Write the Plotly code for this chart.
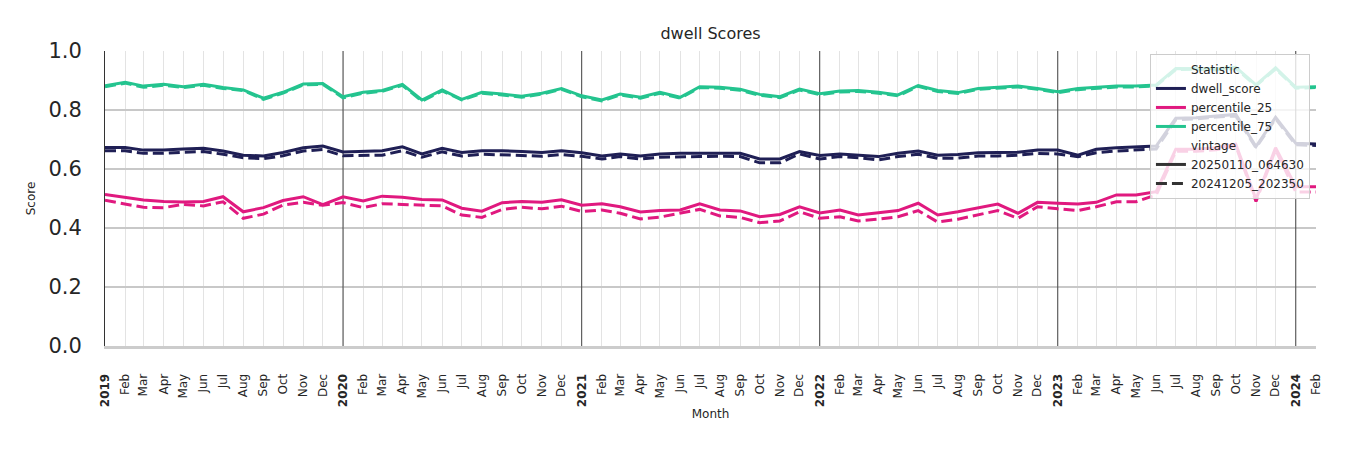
import pandas as pd
import plotly.graph_objects as go

# ---- data ----
months = pd.date_range("2019-01-01", "2024-02-01", freq="MS")
tick_text = [f"<b>{d.year}</b>" if d.month == 1 else d.strftime("%b") for d in months]
year_starts = [d for d in months if d.month == 1 and d.year > 2019]

vintages = ["20250110_064630", "20241205_202350"]
statistics = ["dwell_score", "percentile_25", "percentile_75"]

dwell_score_v1 = [0.673, 0.673, 0.664, 0.664, 0.668, 0.670, 0.661, 0.647, 0.644, 0.656, 0.672, 0.678,
                  0.658, 0.661, 0.662, 0.675, 0.651, 0.670, 0.656, 0.662, 0.662, 0.659, 0.656, 0.662,
                  0.655, 0.644, 0.651, 0.644, 0.651, 0.653, 0.653, 0.653, 0.653, 0.634, 0.634, 0.659,
                  0.646, 0.651, 0.647, 0.642, 0.653, 0.661, 0.647, 0.649, 0.655, 0.655, 0.657, 0.664,
                  0.664, 0.647, 0.667, 0.672, 0.676, 0.678, 0.772, 0.774, 0.780, 0.785, 0.676, 0.775,
                  0.687, 0.685]
dwell_score_v2 = [0.662, 0.662, 0.653, 0.653, 0.657, 0.659, 0.650, 0.638, 0.635, 0.645, 0.661, 0.666,
                  0.645, 0.646, 0.647, 0.662, 0.640, 0.658, 0.644, 0.650, 0.649, 0.646, 0.643, 0.649,
                  0.643, 0.634, 0.642, 0.634, 0.640, 0.642, 0.642, 0.643, 0.642, 0.621, 0.621, 0.651,
                  0.634, 0.642, 0.638, 0.631, 0.642, 0.650, 0.636, 0.637, 0.644, 0.644, 0.647, 0.653,
                  0.651, 0.642, 0.655, 0.661, 0.664, 0.668, 0.767, 0.770, 0.776, 0.780, 0.672, 0.770,
                  0.682, 0.680]
percentile_25_v1 = [0.514, 0.503, 0.495, 0.490, 0.488, 0.490, 0.506, 0.455, 0.469, 0.493, 0.506, 0.479,
                    0.506, 0.492, 0.508, 0.504, 0.497, 0.495, 0.467, 0.457, 0.486, 0.490, 0.487, 0.496,
                    0.477, 0.482, 0.472, 0.454, 0.459, 0.461, 0.482, 0.461, 0.458, 0.438, 0.446, 0.472,
                    0.451, 0.461, 0.444, 0.452, 0.459, 0.484, 0.444, 0.455, 0.469, 0.481, 0.450, 0.487,
                    0.484, 0.481, 0.487, 0.512, 0.512, 0.523, 0.667, 0.667, 0.672, 0.684, 0.497, 0.672,
                    0.540, 0.540]
percentile_25_v2 = [0.494, 0.481, 0.470, 0.469, 0.480, 0.475, 0.489, 0.433, 0.447, 0.478, 0.487, 0.477,
                    0.486, 0.469, 0.482, 0.480, 0.478, 0.475, 0.444, 0.436, 0.463, 0.470, 0.465, 0.474,
                    0.456, 0.461, 0.450, 0.431, 0.437, 0.450, 0.463, 0.441, 0.436, 0.418, 0.424, 0.455,
                    0.433, 0.438, 0.424, 0.430, 0.438, 0.459, 0.420, 0.430, 0.446, 0.459, 0.433, 0.472,
                    0.465, 0.459, 0.472, 0.489, 0.489, 0.512, 0.660, 0.660, 0.665, 0.678, 0.490, 0.665,
                    0.522, 0.522]
percentile_75_v1 = [0.882, 0.894, 0.881, 0.887, 0.879, 0.887, 0.876, 0.868, 0.840, 0.860, 0.888, 0.890,
                    0.845, 0.860, 0.866, 0.887, 0.834, 0.868, 0.836, 0.860, 0.854, 0.847, 0.857, 0.873,
                    0.848, 0.834, 0.854, 0.843, 0.860, 0.843, 0.879, 0.877, 0.870, 0.853, 0.845, 0.871,
                    0.855, 0.864, 0.866, 0.860, 0.851, 0.883, 0.866, 0.859, 0.873, 0.876, 0.881, 0.873,
                    0.862, 0.873, 0.876, 0.881, 0.881, 0.885, 0.941, 0.941, 0.940, 0.945, 0.885, 0.943,
                    0.877, 0.879]
percentile_75_v2 = [0.879, 0.891, 0.877, 0.884, 0.876, 0.884, 0.873, 0.866, 0.836, 0.857, 0.885, 0.887,
                    0.841, 0.857, 0.863, 0.884, 0.830, 0.865, 0.834, 0.857, 0.851, 0.843, 0.854, 0.870,
                    0.845, 0.831, 0.851, 0.840, 0.857, 0.840, 0.876, 0.874, 0.867, 0.850, 0.842, 0.868,
                    0.852, 0.861, 0.863, 0.857, 0.848, 0.880, 0.863, 0.856, 0.870, 0.873, 0.878, 0.870,
                    0.859, 0.869, 0.873, 0.878, 0.878, 0.882, 0.937, 0.938, 0.936, 0.941, 0.882, 0.939,
                    0.874, 0.876]

series = {
    ("dwell_score", vintages[0]): dwell_score_v1,
    ("dwell_score", vintages[1]): dwell_score_v2,
    ("percentile_25", vintages[0]): percentile_25_v1,
    ("percentile_25", vintages[1]): percentile_25_v2,
    ("percentile_75", vintages[0]): percentile_75_v1,
    ("percentile_75", vintages[1]): percentile_75_v2,
}

# ---- styles ----
colors = {"dwell_score": "#1f1f55", "percentile_25": "#e0197f", "percentile_75": "#24c48f"}
dashes = {vintages[0]: "solid", vintages[1]: "11px,5px"}
TXT = "#262626"
FONT = "DejaVu Sans"
W, H = 1342, 442  # page body has an 8px margin

fig = go.Figure()
for (stat, vin), vals in series.items():
    fig.add_trace(go.Scatter(x=months, y=vals, mode="lines", showlegend=False,
                             line=dict(color=colors[stat], width=3, dash=dashes[vin]),
                             name=f"{stat} {vin}"))

# legend entries (seaborn style, with header rows)
fig.add_trace(go.Scatter(x=[None], y=[None], mode="lines", name="Statistic",
                         line=dict(color="rgba(0,0,0,0)", width=3)))
for stat in statistics:
    fig.add_trace(go.Scatter(x=[None], y=[None], mode="lines", name=stat,
                             line=dict(color=colors[stat], width=3)))
fig.add_trace(go.Scatter(x=[None], y=[None], mode="lines", name="vintage",
                         line=dict(color="rgba(0,0,0,0)", width=3)))
for vin in vintages:
    fig.add_trace(go.Scatter(x=[None], y=[None], mode="lines", name=vin,
                             line=dict(color="#333333", width=3, dash=dashes[vin])))

for ys in year_starts:
    fig.add_shape(type="line", x0=ys, x1=ys, y0=0, y1=1, xref="x", yref="y",
                  line=dict(color="#444444", width=1), layer="between")

fig.update_layout(
    width=W, height=H,
    margin=dict(l=97, r=34, t=43, b=104),
    paper_bgcolor="white", plot_bgcolor="white",
    font=dict(family=FONT, color=TXT, size=12),
    title=dict(text="dwell Scores", x=0.5, xref="paper", xanchor="center",
               y=1 - 25 / H, yref="container", yanchor="middle",
               font=dict(size=16, color=TXT)),
    legend=dict(x=0.995, y=0.99, xanchor="right", yanchor="top",
                bgcolor="rgba(255,255,255,0.8)", bordercolor="#cccccc", borderwidth=1,
                font=dict(size=12, color=TXT), tracegroupgap=0),
)
fig.update_xaxes(
    type="date", range=[months[0], months[-1]],
    tickvals=list(months), ticktext=tick_text, tickangle=-90,
    tickfont=dict(size=12, color=TXT), ticks="", ticklabelstandoff=20,
    showgrid=True, gridcolor="#e3e3e3", gridwidth=1,
    showline=True, linecolor="#cccccc", linewidth=3,
    zeroline=False,
    title=dict(text="Month", font=dict(size=12, color=TXT), standoff=4),
)
fig.update_yaxes(
    range=[0, 1], tickvals=[0, 0.2, 0.4, 0.6, 0.8, 1.0], tickformat=".1f",
    tickfont=dict(size=21, color=TXT), ticks="", ticklabelstandoff=18,
    showgrid=True, gridcolor="#c8c8c8", gridwidth=1.5,
    showline=True, linecolor="#333333", linewidth=1,
    zeroline=False,
    title=dict(text="Score", font=dict(size=12, color=TXT), standoff=10),
)

fig.write_html("out.html")
